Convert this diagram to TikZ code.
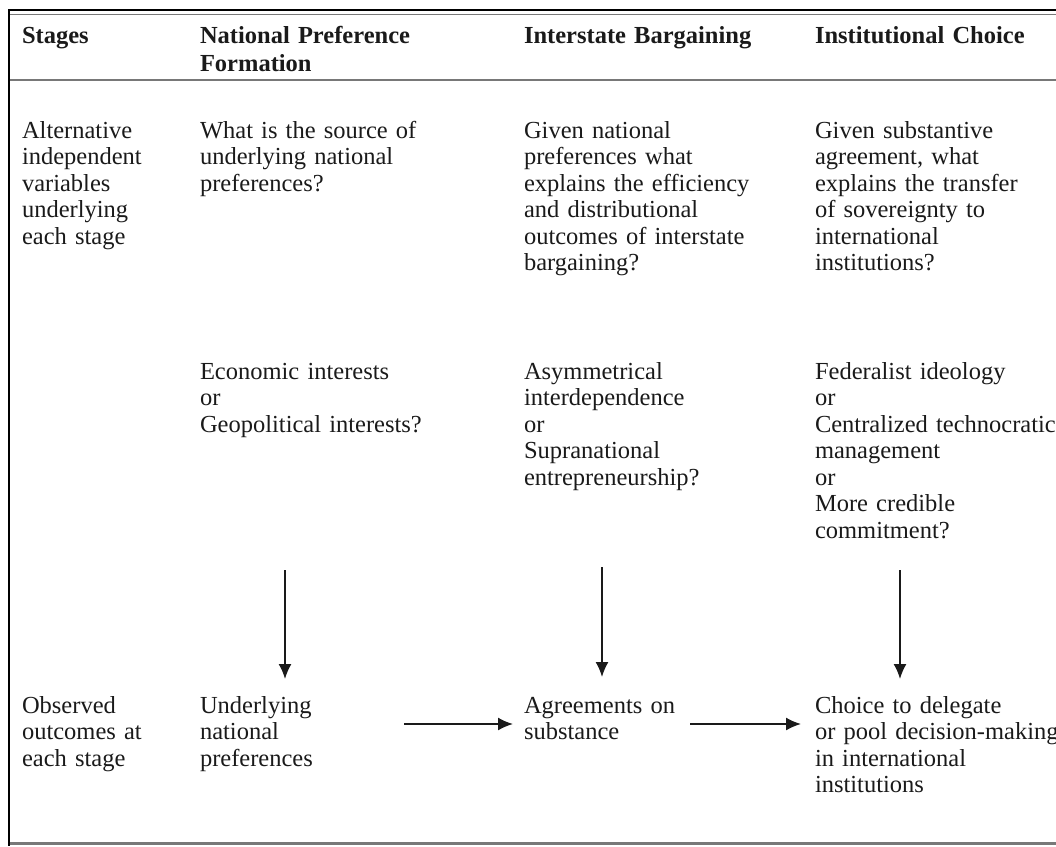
\documentclass[tikz,border=0pt]{standalone}
\usepackage{fontspec}
\setmainfont{Liberation Serif}
\usetikzlibrary{arrows.meta}
\definecolor{ink}{RGB}{26,26,26}
\definecolor{rulegray}{RGB}{120,120,120}
\begin{document}
\begin{tikzpicture}[x=1pt,y=-1pt,
  cell/.style={anchor=base west,inner sep=0pt,outer sep=0pt,text width=330pt,align=left,
    text=ink,font=\fontsize{24.5}{26.5}\selectfont},
  head/.style={cell,font=\fontsize{24.5}{28}\selectfont\bfseries},
  arr/.style={draw=ink,line width=1.7pt,-{Latex[length=15pt,width=13pt]}}]
\useasboundingbox (0,0) rectangle (1056,846);
\clip (0,0) rectangle (1056,846);

% table rules
\draw[black,line width=2.5pt] (9,10) -- (1056,10);
\draw[rulegray,line width=1.2pt] (9,14.5) -- (1056,14.5);
\draw[rulegray,line width=2pt] (9,80) -- (1056,80);
\draw[rulegray,line width=3pt] (9,843) -- (1056,843);
\draw[black,line width=2pt] (9,9) -- (9,846);

% header row
\node[head] (hstage) at (22,43) {Stages};
\node[head] (hnat) at (200,43) {National Preference\\Formation};
\node[head] (hbarg) at (524,43) {Interstate Bargaining};
\node[head] (hinst) at (815,43) {Institutional Choice};

% questions about each stage
\node[cell] (altvar) at (22,138) {Alternative\\independent\\variables\\underlying\\each stage};
\node[cell] (qnat) at (200,138) {What is the source of\\underlying national\\preferences?};
\node[cell] (qbarg) at (524,138) {Given national\\preferences what\\explains the efficiency\\and distributional\\outcomes of interstate\\bargaining?};
\node[cell] (qinst) at (815,138) {Given substantive\\agreement, what\\explains the transfer\\of sovereignty to\\international\\institutions?};

% candidate explanations
\node[cell] (enat) at (200,379) {Economic interests\\or\\Geopolitical interests?};
\node[cell] (ebarg) at (524,379) {Asymmetrical\\interdependence\\or\\Supranational\\entrepreneurship?};
\node[cell] (einst) at (815,379) {Federalist ideology\\or\\Centralized technocratic\\management\\or\\More credible\\commitment?};

% observed outcomes
\node[cell] (obs) at (22,713) {Observed\\outcomes at\\each stage};
\node[cell] (onat) at (200,713) {Underlying\\national\\preferences};
\node[cell] (obarg) at (524,713) {Agreements on\\substance};
\node[cell] (oinst) at (815,713) {Choice to delegate\\or pool decision-making\\in international\\institutions};

% arrow end points
\coordinate (d1a) at (285,570);
\coordinate (d1b) at (285,679);
\coordinate (d2a) at (602,567);
\coordinate (d2b) at (602,677);
\coordinate (d3a) at (900,570);
\coordinate (d3b) at (900,679);
\coordinate (h1a) at (404,724);
\coordinate (h1b) at (513,724);
\coordinate (h2a) at (690,724);
\coordinate (h2b) at (801,724);

\draw[arr] (d1a) -- (d1b);
\draw[arr] (d2a) -- (d2b);
\draw[arr] (d3a) -- (d3b);
\draw[arr] (h1a) -- (h1b);
\draw[arr] (h2a) -- (h2b);
\end{tikzpicture}
\end{document}
